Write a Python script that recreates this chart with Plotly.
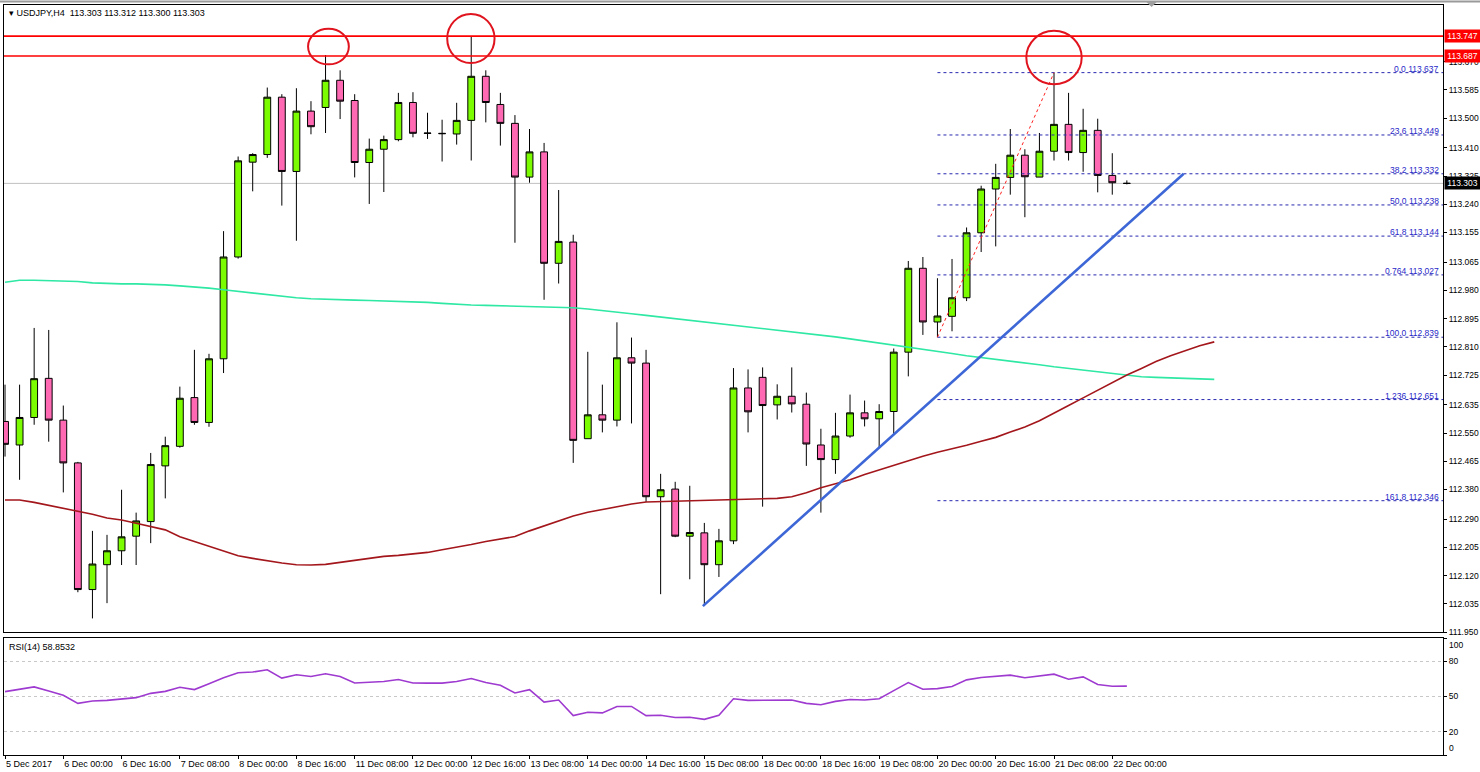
import plotly.graph_objects as go

# ---------------- data ----------------
time_labels = ["5 Dec 2017", "6 Dec 00:00", "6 Dec 16:00", "7 Dec 08:00", "8 Dec 00:00",
               "8 Dec 16:00", "11 Dec 08:00", "12 Dec 00:00", "12 Dec 16:00", "13 Dec 08:00",
               "14 Dec 00:00", "14 Dec 16:00", "15 Dec 08:00", "18 Dec 00:00", "18 Dec 16:00",
               "19 Dec 08:00", "20 Dec 00:00", "20 Dec 16:00", "21 Dec 08:00", "22 Dec 00:00"]
label_bars = [0, 4, 8, 12, 16, 20, 24, 28, 32, 36, 40, 44, 48, 52, 56, 60, 64, 68, 72, 76]

opens = [112.585, 112.514, 112.597, 112.715, 112.589, 112.460, 112.078, 112.153, 112.195, 112.239,
         112.283, 112.451, 112.510, 112.657, 112.582, 112.774, 113.081, 113.367, 113.390, 113.563,
         113.339, 113.521, 113.532, 113.614, 113.553, 113.366, 113.406, 113.435, 113.547, 113.455,
         113.454, 113.452, 113.493, 113.626, 113.541, 113.484, 113.322, 113.398, 113.062, 113.126,
         112.533, 112.605, 112.589, 112.777, 112.761, 112.358, 112.381, 112.239, 112.249, 112.153,
         112.225, 112.686, 112.718, 112.635, 112.661, 112.637, 112.514, 112.470, 112.541, 112.611,
         112.593, 112.615, 112.794, 113.047, 112.885, 112.902, 112.958, 113.154, 113.286, 113.321,
         113.388, 113.322, 113.400, 113.481, 113.396, 113.463, 113.327, 113.303]
highs = [112.696, 112.696, 112.867, 112.861, 112.633, 112.463, 112.255, 112.243, 112.379, 112.310,
         112.490, 112.539, 112.690, 112.801, 112.789, 113.159, 113.384, 113.394, 113.592, 113.572,
         113.590, 113.551, 113.690, 113.644, 113.572, 113.438, 113.447, 113.576, 113.578, 113.516,
         113.495, 113.546, 113.747, 113.644, 113.576, 113.509, 113.467, 113.425, 113.283, 113.148,
         112.795, 112.696, 112.884, 112.838, 112.801, 112.427, 112.403, 112.391, 112.279, 112.261,
         112.746, 112.742, 112.748, 112.697, 112.748, 112.672, 112.563, 112.611, 112.666, 112.648,
         112.637, 112.805, 113.069, 113.081, 113.017, 113.075, 113.170, 113.296, 113.362, 113.467,
         113.406, 113.455, 113.637, 113.576, 113.528, 113.498, 113.394, 113.312]
lows = [112.479, 112.409, 112.575, 112.524, 112.371, 112.070, 111.991, 112.037, 112.152, 112.152,
        112.218, 112.353, 112.506, 112.575, 112.569, 112.731, 113.076, 113.279, 113.380, 113.236,
        113.130, 113.451, 113.455, 113.497, 113.321, 113.241, 113.277, 113.430, 113.442, 113.437,
        113.369, 113.420, 113.372, 113.487, 113.417, 113.124, 113.305, 112.952, 113.001, 112.460,
        112.533, 112.552, 112.570, 112.579, 112.342, 112.064, 112.236, 112.109, 112.030, 112.116,
        112.215, 112.552, 112.328, 112.591, 112.612, 112.451, 112.310, 112.427, 112.536, 112.570,
        112.506, 112.546, 112.721, 112.846, 112.839, 112.857, 112.948, 113.096, 113.113, 113.269,
        113.201, 113.322, 113.372, 113.372, 113.338, 113.276, 113.269, 113.300]
closes = [112.516, 112.597, 112.714, 112.589, 112.460, 112.078, 112.155, 112.195, 112.237, 112.285,
          112.455, 112.512, 112.655, 112.582, 112.774, 113.081, 113.371, 113.390, 113.563, 113.339,
          113.521, 113.474, 113.614, 113.551, 113.366, 113.406, 113.435, 113.547, 113.454, 113.454,
          113.453, 113.493, 113.626, 113.547, 113.484, 113.322, 113.398, 113.062, 113.128, 112.528,
          112.605, 112.589, 112.777, 112.761, 112.358, 112.379, 112.239, 112.250, 112.153, 112.225,
          112.686, 112.614, 112.633, 112.661, 112.638, 112.517, 112.470, 112.541, 112.611, 112.593,
          112.615, 112.794, 113.047, 112.885, 112.903, 112.958, 113.154, 113.286, 113.321, 113.388,
          113.323, 113.400, 113.481, 113.396, 113.463, 113.327, 113.305, 113.303]

ma_green = [113.005, 113.011, 113.011, 113.010, 113.009, 113.007, 113.003, 113.001, 113.000, 113.000,
            112.999, 112.997, 112.994, 112.991, 112.987, 112.982, 112.977, 112.972, 112.968, 112.963,
            112.958, 112.955, 112.953, 112.952, 112.951, 112.950, 112.949, 112.948, 112.946, 112.944,
            112.941, 112.938, 112.936, 112.935, 112.934, 112.933, 112.932, 112.931, 112.930, 112.928,
            112.924, 112.920, 112.915, 112.910, 112.905, 112.900, 112.895, 112.890, 112.886, 112.881,
            112.876, 112.872, 112.865, 112.861, 112.856, 112.851, 112.846, 112.840, 112.834, 112.828,
            112.822, 112.815, 112.809, 112.802, 112.796, 112.790, 112.783, 112.778, 112.772, 112.766,
            112.761, 112.756, 112.750, 112.745, 112.739, 112.734, 112.729, 112.725, 112.720, 112.718,
            112.716, 112.714, 112.713, 112.712]
ma_red = [112.348, 112.348, 112.341, 112.332, 112.324, 112.314, 112.305, 112.294, 112.288, 112.278,
          112.269, 112.258, 112.237, 112.223, 112.207, 112.193, 112.180, 112.172, 112.164, 112.158,
          112.153, 112.152, 112.154, 112.160, 112.167, 112.173, 112.178, 112.181, 112.186, 112.190,
          112.198, 112.205, 112.214, 112.223, 112.231, 112.238, 112.255, 112.270, 112.285, 112.300,
          112.311, 112.320, 112.329, 112.336, 112.342, 112.343, 112.345, 112.346, 112.347, 112.348,
          112.348, 112.349, 112.351, 112.353, 112.358, 112.370, 112.385, 112.397, 112.409, 112.425,
          112.439, 112.452, 112.466, 112.480, 112.492, 112.502, 112.513, 112.525, 112.537, 112.553,
          112.568, 112.587, 112.611, 112.633, 112.656, 112.679, 112.703, 112.725, 112.745, 112.766,
          112.783, 112.798, 112.813, 112.825]

rsi = [54.2, 56.2, 58.2, 54.7, 51.0, 44.1, 46.1, 46.7, 47.8, 49.0,
       52.7, 54.4, 57.9, 55.9, 60.8, 66.0, 70.3, 70.9, 72.9, 65.7,
       68.6, 67.1, 69.4, 67.1, 61.6, 61.9, 62.8, 64.5, 61.6, 61.4,
       61.4, 62.8, 65.4, 61.9, 59.6, 53.0, 55.9, 45.2, 47.0, 33.7,
       36.6, 36.0, 41.5, 41.5, 33.7, 34.0, 32.0, 32.3, 30.5, 34.0,
       48.1, 46.7, 47.0, 47.2, 47.0, 44.1, 42.9, 45.8, 47.5, 47.0,
       48.1, 55.0, 61.9, 56.2, 56.7, 58.5, 64.2, 66.3, 67.1, 68.3,
       66.0, 67.4, 69.1, 64.8, 66.8, 60.2, 58.8, 58.85]

price_ticks = [113.670, 113.585, 113.500, 113.410, 113.325, 113.240, 113.155, 113.065, 112.980,
               112.895, 112.810, 112.725, 112.635, 112.550, 112.465, 112.380, 112.290, 112.205,
               112.120, 112.035, 111.950]
rsi_ticks = [0, 20, 50, 80, 100]
rsi_inner_ticks = ["", "20", "50", "80", ""]
rsi_edge_labels = [(100, "100"), (0, "0")]

fib_levels = [113.637, 113.449, 113.332, 113.238, 113.144, 113.027, 112.839, 112.651, 112.346]
fib_names = ["0.0", "23.6", "38.2", "50.0", "61.8", "0.764", "100.0", "1.236", "161.8"]
resistance_levels = [113.747, 113.687]
bid_price = 113.303
fib_from_bar, fib_to_bar = 64, 72
trend_start = (47.9, 112.028)
trend_end = (80.9, 113.332)
circles = [(20.8, 23.6, 113.662, 113.769), (30.35, 33.6, 113.666, 113.814), (70.1, 73.9, 113.602, 113.763)]

# ---------------- figure ----------------
FONT = "Liberation Sans, Arial, sans-serif"
bars = list(range(len(opens)))
XR = [-0.07, 98.7]
YR = [111.950, 113.841]

fig = go.Figure()

fig.add_trace(go.Scatter(x=list(range(len(ma_green))), y=ma_green, mode="lines",
                         line=dict(color="#2EE8A4", width=1.6), hoverinfo="skip",
                         xaxis="x", yaxis="y"))
fig.add_trace(go.Scatter(x=list(range(len(ma_red))), y=ma_red, mode="lines",
                         line=dict(color="#A3161B", width=1.6), hoverinfo="skip",
                         xaxis="x", yaxis="y"))

fig.add_trace(go.Candlestick(
    x=bars, open=opens, high=highs, low=lows, close=closes,
    increasing=dict(fillcolor="#7CFC00", line=dict(color="#000000", width=1)),
    decreasing=dict(fillcolor="#FF69B4", line=dict(color="#000000", width=1)),
    whiskerwidth=0, xaxis="x", yaxis="y"))

fig.add_trace(go.Scatter(x=list(range(len(rsi))), y=rsi, mode="lines",
                         line=dict(color="#9E3AD0", width=1.6), hoverinfo="skip",
                         xaxis="x2", yaxis="y2"))

shapes = []
shapes.append(dict(type="line", xref="paper", yref="y", x0=0, x1=1, y0=bid_price, y1=bid_price,
                   line=dict(color="#C0C0C0", width=1), layer="below"))
for lv in resistance_levels:
    shapes.append(dict(type="line", xref="paper", yref="y", x0=0, x1=1, y0=lv, y1=lv,
                       line=dict(color="#FF0000", width=1.6)))
for lv in fib_levels:
    shapes.append(dict(type="line", xref="x", yref="y", x0=fib_from_bar, x1=XR[1], y0=lv, y1=lv,
                       line=dict(color="#2828B0", width=1, dash="dot")))
shapes.append(dict(type="line", xref="x", yref="y", x0=fib_from_bar, x1=fib_to_bar,
                   y0=fib_levels[-3], y1=fib_levels[0],
                   line=dict(color="#FF2020", width=1, dash="dot")))
shapes.append(dict(type="line", xref="x", yref="y", x0=trend_start[0], y0=trend_start[1],
                   x1=trend_end[0], y1=trend_end[1], line=dict(color="#3D66D6", width=2.6)))
for (a, b, c, d) in circles:
    shapes.append(dict(type="circle", xref="x", yref="y", x0=a, x1=b, y0=c, y1=d,
                       line=dict(color="#E0141E", width=2)))
# window chrome
shapes.append(dict(type="line", xref="paper", yref="paper", x0=-0.01, x1=1.03, y0=1.0047, y1=1.0047,
                   line=dict(color="#9A9A9A", width=2)))
shapes.append(dict(type="path", xref="paper", yref="paper",
                   path="M 0.7935 1.0047 L 0.8015 1.0047 L 0.7975 0.9975 Z",
                   fillcolor="#A0A0A0", line=dict(width=0)))

annotations = []
annotations.append(dict(xref="paper", yref="paper", x=0, y=1, xanchor="left", yanchor="top",
                        xshift=3, yshift=-1, showarrow=False,
                        text="▾ USDJPY,H4  113.303 113.312 113.300 113.303",
                        font=dict(family=FONT, size=9, color="#000000")))
annotations.append(dict(xref="paper", yref="paper", x=0, y=0.156, xanchor="left", yanchor="top",
                        xshift=3, yshift=-2, showarrow=False, text="RSI(14) 58.8532",
                        font=dict(family=FONT, size=9, color="#000000")))
for lv, nm in zip(fib_levels, fib_names):
    annotations.append(dict(xref="paper", yref="y", x=1, y=lv, xanchor="right", yanchor="bottom",
                            xshift=-2, yshift=-3, showarrow=False, text=f"{nm} {lv:.3f}",
                            font=dict(family=FONT, size=8.5, color="#2828C8")))
for lv in resistance_levels:
    annotations.append(dict(xref="paper", yref="y", x=1, y=lv, xanchor="left", yanchor="middle",
                            xshift=1, showarrow=False, text=f"{lv:.3f}", bgcolor="#FF0000",
                            borderpad=1, width=33,
                            font=dict(family=FONT, size=8.5, color="#FFFFFF")))
annotations.append(dict(xref="paper", yref="y", x=1, y=bid_price, xanchor="left", yanchor="middle",
                        xshift=1, showarrow=False, text=f"{bid_price:.3f}", bgcolor="#000000",
                        borderpad=1, width=33,
                        font=dict(family=FONT, size=8.5, color="#FFFFFF")))
for val, txt in rsi_edge_labels:
    annotations.append(dict(xref="paper", yref="y2", x=1, y=val, xanchor="left",
                            yanchor="top" if val == 100 else "bottom",
                            xshift=4, yshift=0, showarrow=False, text=txt,
                            font=dict(family=FONT, size=8.5, color="#000000")))

axis_font = dict(family=FONT, size=8.5, color="#000000")

fig.update_layout(
    width=1480, height=772,
    margin=dict(l=4, r=37, t=5, b=17, autoexpand=False),
    paper_bgcolor="#FFFFFF", plot_bgcolor="#FFFFFF",
    showlegend=False,
    boxgap=0.33,
    shapes=shapes, annotations=annotations,
    xaxis=dict(domain=[0, 1], anchor="y", range=XR, showticklabels=False, showgrid=False,
               zeroline=False, showline=True, mirror=True, linecolor="#000000", linewidth=1,
               rangeslider=dict(visible=False), ticks="", automargin=False),
    yaxis=dict(domain=[0.164, 1], anchor="x", range=YR, side="right", tickvals=price_ticks,
               tickformat=".3f", ticks="outside", ticklen=3, tickcolor="#000000",
               showgrid=False, zeroline=False, showline=True, mirror=True,
               linecolor="#000000", linewidth=1, tickfont=axis_font, automargin=False),
    xaxis2=dict(domain=[0, 1], anchor="y2", range=XR, matches="x", tickvals=label_bars,
                ticktext=time_labels, ticks="outside", ticklen=3, tickcolor="#000000",
                ticklabelposition="outside right", tickangle=0, showgrid=False, zeroline=False,
                showline=True, mirror=True, linecolor="#000000", linewidth=1, automargin=False,
                tickfont=dict(family=FONT, size=9, color="#000000")),
    yaxis2=dict(domain=[0, 0.156], anchor="x2", range=[0, 100], side="right", tickvals=rsi_ticks,
                ticktext=rsi_inner_ticks,
                ticks="outside", ticklen=3, tickcolor="#000000", showgrid=True,
                gridcolor="#C8C8C8", griddash="dot", gridwidth=1, zeroline=False,
                showline=True, mirror=True, linecolor="#000000", linewidth=1, tickfont=axis_font,
                automargin=False),
)

fig.write_html("out.html", config={"displayModeBar": False},
               post_script="document.body.style.margin='0px';document.body.style.overflow='hidden';")
